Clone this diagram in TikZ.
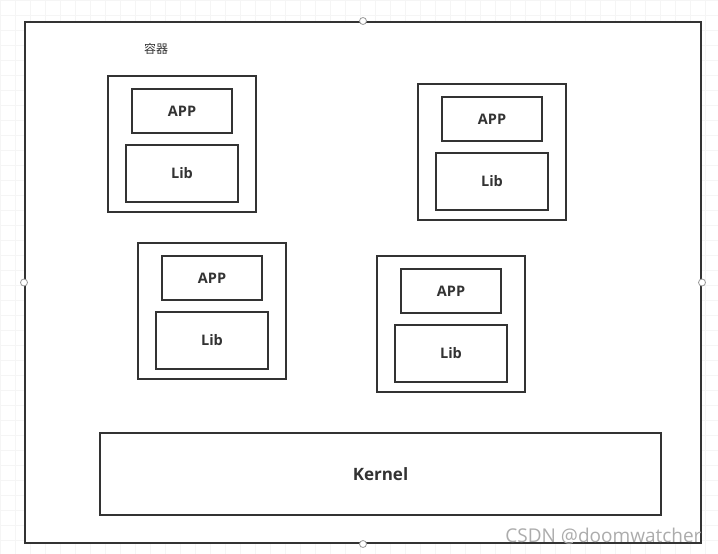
\documentclass[tikz,border=0pt]{standalone}
\usepackage{fontspec}
\setmainfont{Open Sans}
\newfontfamily\cjkfont{Noto Sans CJK SC}
\definecolor{linegray}{HTML}{333333}
\tikzset{
    box/.style = {draw = linegray, line width = 2pt, fill = white, inner sep = 0pt,
                  text = linegray, font = \fontsize{14.5}{16}\selectfont\bfseries},
    handle/.style = {circle, draw = gray!80, fill = white, line width = 0.8pt,
                     minimum size = 7pt, inner sep = 0pt}
}
\begin{document}
\begin{tikzpicture}[x=1pt, y=-1pt]
    \useasboundingbox (0,0) rectangle (718,554);
    % faint grid behind the canvas
    \foreach \gx in {0,15,...,718}
        \draw[gray!8, line width = 0.6pt] (\gx,0) -- (\gx,554);
    \foreach \gy in {0,15,...,554}
        \draw[gray!8, line width = 0.6pt] (0,\gy) -- (718,\gy);
    % host
    \node[box, minimum width = 676pt, minimum height = 521pt] (host) at (363,282.5) {};
    \node[text = linegray, font = \cjkfont\fontsize{12}{14}\selectfont] (title) at (156,49) {容器};
    % containers
    \foreach \n/\dx/\dy in {1/0/0, 2/310/8, 3/30/167, 4/269/180} {
        \node[box, minimum width = 148pt, minimum height = 136pt] (c\n) at (182+\dx,144+\dy) {};
        \node[box, minimum width = 100pt, minimum height = 44pt] (app\n) at (182+\dx,111+\dy) {APP};
        \node[box, minimum width = 112pt, minimum height = 57pt] (lib\n) at (182+\dx,173.5+\dy) {Lib};
    }
    % kernel
    \node[box, minimum width = 561pt, minimum height = 82pt,
          font = \fontsize{17}{20}\selectfont\bfseries] (kernel) at (380.5,474) {Kernel};
    % selection handles
    \node[handle] (hn) at (host.north) {};
    \node[handle] (hs) at (host.south) {};
    \node[handle] (hw) at (host.west) {};
    \node[handle] (he) at (host.east) {};
    % watermark
    \node[anchor = east, text = gray!65, font = \fontsize{19}{22}\selectfont] (mark) at (705,536) {CSDN @doomwatcher};
\end{tikzpicture}
\end{document}
